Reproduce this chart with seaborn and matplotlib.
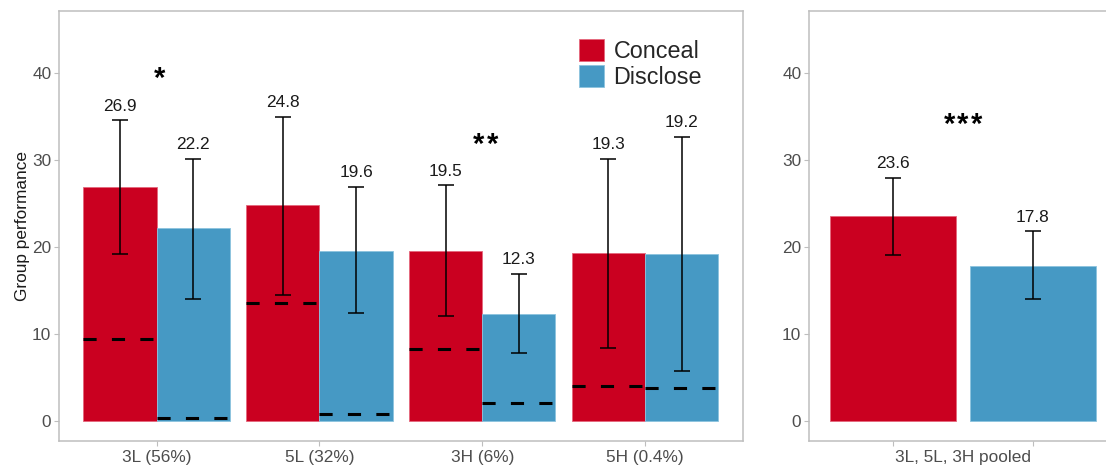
import matplotlib
matplotlib.use("Agg")
import matplotlib.pyplot as plt
import seaborn as sns
import pandas as pd
from matplotlib.patches import Patch

# ---- data -------------------------------------------------------------
groups = ["3L (56%)", "5L (32%)", "3H (6%)", "5H (0.4%)"]
conditions = ["Conceal", "Disclose"]

conceal_mean = [26.9, 24.8, 19.5, 19.3]
disclose_mean = [22.2, 19.6, 12.3, 19.2]
conceal_lo = [19.2, 14.5, 12.0, 8.4]
conceal_hi = [34.6, 35.0, 27.1, 30.2]
disclose_lo = [14.0, 12.4, 7.8, 5.7]
disclose_hi = [30.2, 26.9, 16.9, 32.7]
# reference level drawn as a dashed line inside each bar
conceal_ref = [9.4, 13.6, 8.2, 4.0]
disclose_ref = [0.3, 0.8, 2.0, 3.7]
stars_left = ["*", "", "**", ""]
stars_left_y = [38.5, None, 30.9, None]

pooled_label = "3L, 5L, 3H pooled"
pooled_mean = [23.6, 17.8]
pooled_lo = [19.1, 14.0]
pooled_hi = [28.0, 21.8]
pooled_star = "***"
pooled_star_y = 33.2

# ---- style ------------------------------------------------------------
sns.set_theme(style="white")
plt.rcParams["font.family"] = ["Liberation Sans", "DejaVu Sans"]

palette = {"Conceal": "#CA0020", "Disclose": "#4699C4"}
edge_palette = {"Conceal": "#E5687C", "Disclose": "#8CC3DE"}
tick_grey = "#4D4D4D"
frame_grey = "#BEBEBE"
label_size = 12.4

W, H = 1106, 466
fig = plt.figure(figsize=(W / 100, H / 100), dpi=100)
ax_l = fig.add_axes([59 / W, (H - 441) / H, (742.7 - 59) / W, 430 / H])
ax_r = fig.add_axes([809 / W, (H - 441) / H, (1117 - 809) / W, 430 / H])

ylim = (-2.35, 47.2)


def style_axes(ax):
    ax.set_ylim(*ylim)
    ax.set_yticks([0, 10, 20, 30, 40])
    for s in ax.spines.values():
        s.set_color(frame_grey)
        s.set_linewidth(1.1)
    ax.tick_params(axis="both", which="major", length=3.5, width=0.8,
                   color=frame_grey, labelcolor=tick_grey,
                   labelsize=label_size, bottom=True, left=True)
    ax.tick_params(axis="y", pad=2)
    ax.tick_params(axis="x", pad=3)
    ax.set_xlabel("")
    ax.set_ylabel("")


def bar_extras(ax, bars, means, lo, hi, ref=None):
    for i, b in enumerate(bars):
        cx = b.get_x() + b.get_width() / 2
        ax.errorbar(cx, means[i],
                    yerr=[[means[i] - lo[i]], [hi[i] - means[i]]],
                    fmt="none", ecolor="black", elinewidth=1.1,
                    capsize=6, capthick=1.1, zorder=4)
        ax.annotate(f"{means[i]:.1f}", xy=(cx, hi[i]), xytext=(0, 7),
                    textcoords="offset points", ha="center", va="baseline",
                    fontsize=label_size, color="#1A1A1A")
        if ref is not None:
            x0 = b.get_x()
            ax.plot([x0, x0 + b.get_width()], [ref[i], ref[i]],
                    color="black", lw=2.2,
                    linestyle=(0, (4.3, 5.0)), solid_capstyle="butt",
                    dash_capstyle="butt", zorder=3)


def draw_stars(ax, x, y, stars):
    # one glyph per star, spaced evenly around the centre
    step = 9.7  # points between neighbouring stars
    n = len(stars)
    for k in range(n):
        dx = (k - (n - 1) / 2) * step
        ax.annotate("*", xy=(x, y), xytext=(dx, 0), textcoords="offset points",
                    ha="center", va="baseline", fontsize=21,
                    fontweight="bold", color="black")


# ---- left panel: per group -------------------------------------------
df_left = pd.DataFrame({
    "group": groups * 2,
    "condition": ["Conceal"] * 4 + ["Disclose"] * 4,
    "value": conceal_mean + disclose_mean,
})
sns.barplot(data=df_left, x="group", y="value", hue="condition",
            order=groups, hue_order=conditions, palette=palette,
            width=0.9, gap=0, errorbar=None, saturation=1,
            legend=False, ax=ax_l)
for cont, cond in zip(ax_l.containers, conditions):
    for b in cont:
        b.set_edgecolor(edge_palette[cond])
        b.set_linewidth(0.6)

bar_extras(ax_l, ax_l.containers[0], conceal_mean, conceal_lo, conceal_hi, conceal_ref)
bar_extras(ax_l, ax_l.containers[1], disclose_mean, disclose_lo, disclose_hi, disclose_ref)

ax_l.set_xlim(-0.6, 3.6)
style_axes(ax_l)
ax_l.set_ylabel("Group performance", fontsize=label_size, color="#1A1A1A")
ax_l.yaxis.set_label_coords(-0.043, 0.5)

for i, (s, y) in enumerate(zip(stars_left, stars_left_y)):
    if s:
        draw_stars(ax_l, i + 0.02, y, s)

handles = [Patch(facecolor=palette[c], edgecolor=edge_palette[c], linewidth=0.6)
           for c in conditions]
ax_l.legend(handles, conditions, loc="upper left",
            bbox_to_anchor=(0.7606, 0.935), frameon=False, fontsize=16.8,
            handlelength=1.08, handleheight=1.08, handletextpad=0.4,
            labelspacing=0.08, borderpad=0, borderaxespad=0)

# ---- right panel: pooled ---------------------------------------------
df_right = pd.DataFrame({"condition": conditions, "value": pooled_mean})
sns.barplot(data=df_right, x="condition", y="value", hue="condition",
            order=conditions, hue_order=conditions, palette=palette,
            width=0.9, errorbar=None, saturation=1, legend=False, ax=ax_r)
pooled_bars = [p for p in ax_r.patches]
pooled_bars.sort(key=lambda p: p.get_x())
for b, cond in zip(pooled_bars, conditions):
    b.set_edgecolor(edge_palette[cond])
    b.set_linewidth(0.6)
bar_extras(ax_r, pooled_bars, pooled_mean, pooled_lo, pooled_hi)

ax_r.set_xlim(-0.6, 1.6)
style_axes(ax_r)
ax_r.set_xticks([0, 1])
ax_r.set_xticklabels(["", ""])
ax_r.annotate(pooled_label, xy=(0.5, 0), xycoords="axes fraction",
              xytext=(0, -6.5), textcoords="offset points",
              ha="center", va="top", fontsize=label_size, color=tick_grey)
draw_stars(ax_r, 0.5, pooled_star_y, pooled_star)

fig.savefig("out.png", dpi=100)
